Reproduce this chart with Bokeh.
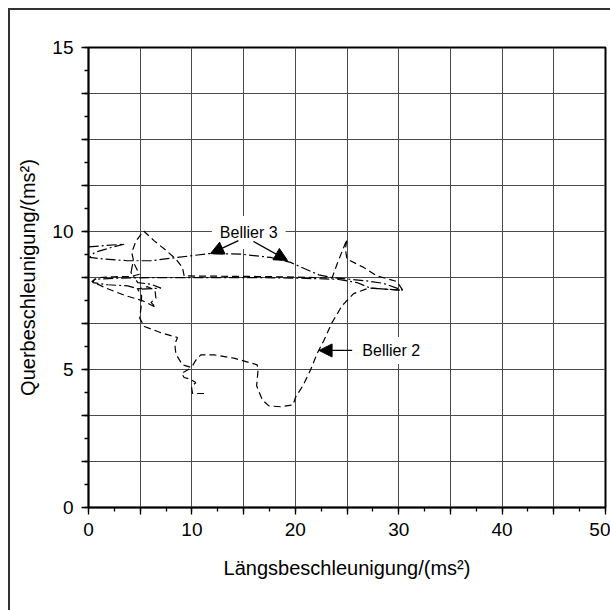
from bokeh.plotting import figure
from bokeh.models import (FixedTicker, CustomJSTickFormatter, Label, Arrow,
                          NormalHead, Range1d)
from bokeh.embed import file_html
from bokeh.resources import INLINE

# ---- data -------------------------------------------------------------
bellier2_x = [11.18, 10.06, 9.96, 10.38, 9.83, 9.25, 9.00, 9.58, 9.96, 9.09,
              8.45, 8.35, 8.61, 7.01, 5.40, 4.95, 5.08, 5.14, 4.76, 5.72,
              6.43, 6.52, 6.04, 6.52, 5.24, 3.47, 1.70, 0.32, 0.90, 2.51,
              4.11, 4.92, 4.43, 4.18, 4.60, 5.33, 6.36, 7.49, 8.45, 9.09,
              9.25, 12.47, 16.32, 20.18, 23.55, 24.04, 24.61, 25.00, 24.84, 25.00,
              26.61, 27.89, 29.82, 30.40, 28.70, 27.09, 25.64, 24.52, 23.55, 22.75,
              22.11, 21.47, 20.73, 20.02, 19.79, 18.57, 17.45, 16.81, 16.26, 16.39,
              16.32, 14.07, 12.15, 10.86, 10.38, 9.96]
bellier2_y = [4.13, 4.13, 4.37, 4.53, 4.65, 4.71, 4.86, 4.98, 5.07, 5.17,
              5.56, 5.92, 6.16, 6.33, 6.56, 6.86, 7.25, 7.67, 7.91, 8.00,
              7.87, 7.58, 7.43, 7.25, 7.49, 7.69, 7.95, 8.19, 8.33, 8.36,
              8.37, 8.45, 8.82, 9.24, 9.66, 10.02, 9.66, 9.32, 9.00, 8.70,
              8.39, 8.38, 8.37, 8.35, 8.31, 8.82, 9.36, 9.72, 9.36, 9.00,
              8.70, 8.39, 8.19, 7.87, 7.91, 7.95, 7.75, 7.31, 6.70, 6.04,
              5.58, 4.98, 4.41, 3.99, 3.72, 3.65, 3.68, 3.90, 4.41, 4.95,
              5.17, 5.41, 5.53, 5.53, 5.34, 5.07]

bellier3_x = [0.02, 1.54, 3.47, 2.19, 0.58, 0.10, 1.54, 3.79, 6.04, 8.61,
              11.66, 14.72, 17.61, 19.54, 20.98, 22.27, 23.55, 25.32, 26.93, 28.53,
              30.40, 27.25, 25.96, 24.04, 20.18, 15.68, 10.86, 6.04, 2.83, 0.58,
              0.42, 1.86, 3.79, 4.92, 7.01, 6.04, 4.76, 4.11, 4.27]
bellier3_y = [9.44, 9.49, 9.54, 9.42, 9.24, 9.06, 9.00, 8.94, 8.94, 9.06,
              9.20, 9.18, 9.06, 8.88, 8.64, 8.43, 8.33, 8.27, 8.21, 8.12,
              7.87, 7.95, 8.15, 8.27, 8.31, 8.33, 8.33, 8.33, 8.31, 8.27,
              8.15, 8.07, 8.03, 7.91, 7.95, 8.09, 8.15, 8.51, 8.82]

x_label_values = [0, 10, 20, 30, 40, 50]
y_label_values = [0, 5, 10, 50 / 3]
y_label_texts = ["0", "5", "10", "15"]

FONT = "Liberation Sans"

p = figure(frame_width=517, frame_height=460,
           x_range=Range1d(0, 50), y_range=Range1d(0, 50 / 3),
           output_backend="svg", toolbar_location=None,
           min_border_left=78, min_border_right=5,
           min_border_top=37, min_border_bottom=103,
           background_fill_color="white", border_fill_color="white")

p.styles = {"margin-left": "8px", "margin-top": "8px",
            "border-left": "2px solid #333333",
            "border-top": "2px solid #333333"}

p.outline_line_color = "black"
p.outline_line_width = 2

# ticks
p.xaxis.ticker = FixedTicker(ticks=[5 * i for i in range(11)],
                             minor_ticks=[2.5 * i for i in range(21)])
p.yaxis.ticker = FixedTicker(ticks=[5 * i / 3 for i in range(11)],
                             minor_ticks=[5 * i / 6 for i in range(21)])
p.xaxis.formatter = CustomJSTickFormatter(
    args=dict(vals=x_label_values),
    code="for (const v of vals) { if (Math.abs(tick - v) < 1e-6) return String(v); } return '';")
p.yaxis.formatter = CustomJSTickFormatter(
    args=dict(vals=y_label_values, labs=y_label_texts),
    code="for (let i = 0; i < vals.length; i++) { if (Math.abs(tick - vals[i]) < 1e-6) return labs[i]; } return '';")

for ax in (p.xaxis[0], p.yaxis[0]):
    ax.major_tick_out = 7
    ax.major_tick_in = 0
    ax.minor_tick_out = 4
    ax.minor_tick_in = 0
    ax.axis_line_width = 1.5
    ax.axis_line_color = "black"
    ax.major_tick_line_color = "black"
    ax.minor_tick_line_color = "black"
    ax.major_tick_line_width = 1.3
    ax.minor_tick_line_width = 1.3
    ax.major_label_text_font = FONT
    ax.major_label_text_font_size = "19px"
    ax.major_label_text_color = "black"
    ax.axis_label_text_font = FONT
    ax.axis_label_text_font_size = "20px"
    ax.axis_label_text_font_style = "normal"
    ax.axis_label_text_color = "black"

p.xaxis.axis_label = "Längsbeschleunigung/(ms²)"
p.yaxis.axis_label = "Querbeschleunigung/(ms²)"
p.xaxis.major_label_standoff = 8
p.yaxis.major_label_standoff = 8
p.xaxis.axis_label_standoff = 18
p.yaxis.axis_label_standoff = 10

p.xgrid.grid_line_color = "#4a4a4a"
p.ygrid.grid_line_color = "#4a4a4a"
p.xgrid.grid_line_width = 1
p.ygrid.grid_line_width = 1

# curves
p.line(bellier2_x, bellier2_y, line_color="black", line_width=1.2,
       line_dash="7 4")
p.line(bellier3_x, bellier3_y, line_color="black", line_width=1.2,
       line_dash="10 3 2 3")

# annotations
lab3 = Label(x=15.5, y=9.96, text="Bellier 3", text_align="center",
             text_baseline="middle", text_font=FONT, text_font_size="16px",
             text_color="black", background_fill_color="white", padding=8)
lab2 = Label(x=26.0, y=5.69, text="Bellier 2", text_align="left",
             text_baseline="middle", text_font=FONT, text_font_size="16px",
             text_color="black", background_fill_color="white", padding=5)
p.add_layout(lab3)
p.add_layout(lab2)

for (xs, ys, xe, ye) in [(14.5, 9.67, 11.8, 9.20), (15.96, 9.64, 19.25, 8.95),
                         (25.5, 5.69, 22.3, 5.69)]:
    p.add_layout(Arrow(x_start=xs, y_start=ys, x_end=xe, y_end=ye,
                       line_color="black", line_width=1.3,
                       end=NormalHead(size=13, fill_color="black",
                                      line_color="black")))

open("out.html", "w").write(file_html(p, INLINE))
